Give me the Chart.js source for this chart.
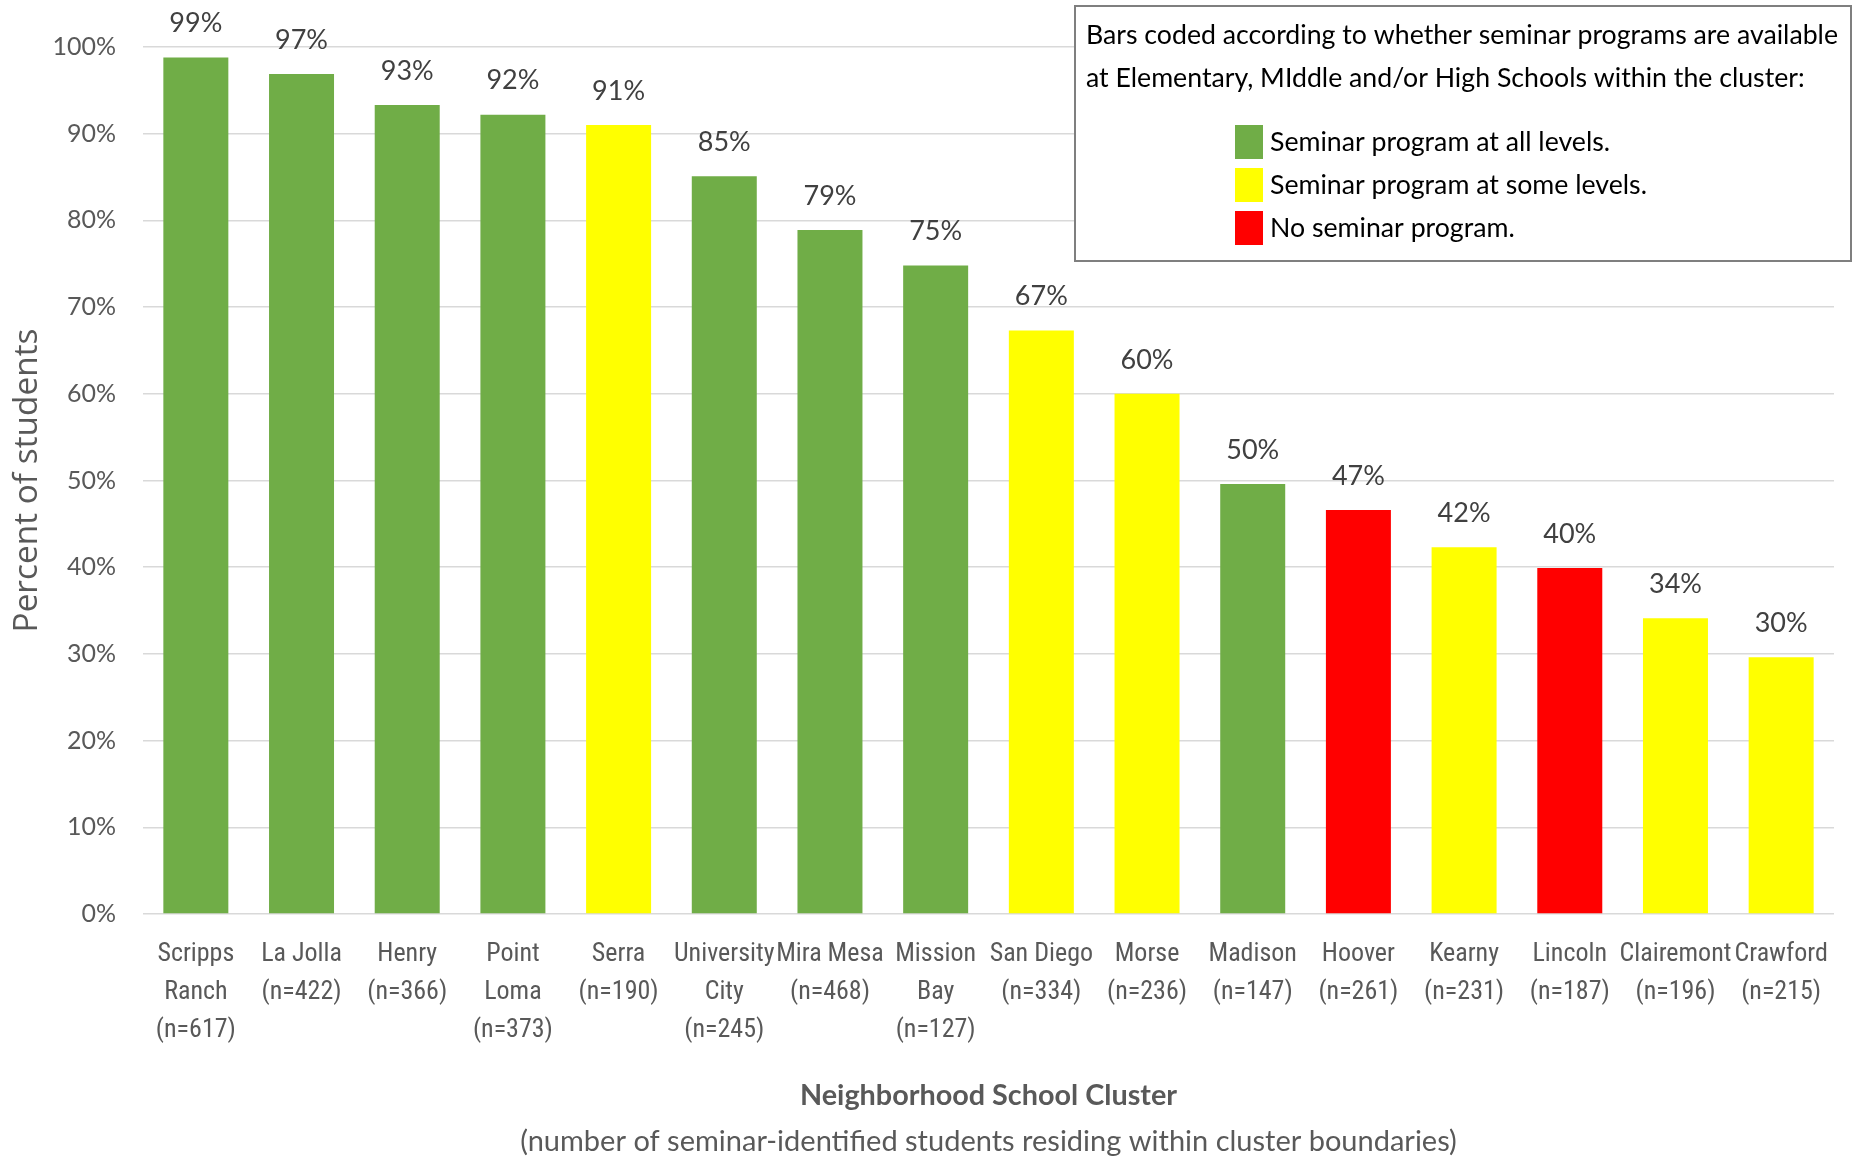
<!DOCTYPE html>
<html>
<head>
<meta charset="utf-8">
<style>
html,body{margin:0;padding:0;background:#ffffff;overflow:hidden}
#wrap{width:1853px;height:1158px;position:relative}
</style>
<script src="https://cdn.jsdelivr.net/npm/chart.js@4.4.1/dist/chart.umd.min.js"></script>
</head>
<body>
<div id="wrap"><canvas id="c" width="1853" height="1158"></canvas></div>
<script>
// ---------------- data ----------------
const categories = [
  ["Scripps", "Ranch", "(n=617)"],
  ["La Jolla", "(n=422)"],
  ["Henry", "(n=366)"],
  ["Point", "Loma", "(n=373)"],
  ["Serra", "(n=190)"],
  ["University", "City", "(n=245)"],
  ["Mira Mesa", "(n=468)"],
  ["Mission", "Bay", "(n=127)"],
  ["San Diego", "(n=334)"],
  ["Morse", "(n=236)"],
  ["Madison", "(n=147)"],
  ["Hoover", "(n=261)"],
  ["Kearny", "(n=231)"],
  ["Lincoln", "(n=187)"],
  ["Clairemont", "(n=196)"],
  ["Crawford", "(n=215)"]
];
const percentStudents = [98.8, 96.9, 93.3, 92.2, 91.0, 85.1, 78.9, 74.8, 67.3, 60.0, 49.6, 46.6, 42.3, 39.9, 34.1, 29.6];
const valueLabels = ["99%", "97%", "93%", "92%", "91%", "85%", "79%", "75%", "67%", "60%", "50%", "47%", "42%", "40%", "34%", "30%"];
const programLevel = ["all", "all", "all", "all", "some", "all", "all", "all", "some", "some", "all", "none", "some", "none", "some", "some"];
const levelKeys = ["all", "some", "none"];
const levelNames = ["Seminar program at all levels.", "Seminar program at some levels.", "No seminar program."];
const levelColors = ["#70AD47", "#FFFF00", "#FF0000"];
const legendHeading = [
  "Bars coded according to whether seminar programs are available",
  "at Elementary, MIddle and/or High Schools within the cluster:"
];
const yAxisTitle = "Percent of students";
const xAxisTitle = "Neighborhood School Cluster";
const xAxisSubtitle = "(number of seminar-identified students residing within cluster boundaries)";
const yMin = 0, yMax = 100, yStep = 10;

// ---------------- styles ----------------
const barColors = programLevel.map(l => levelColors[levelKeys.indexOf(l)]);
const GRAY_TEXT = "#595959";
const LABEL_TEXT = "#404040";
const FONT_MAIN = "Lato, 'Open Sans', sans-serif";
const FONT_WIDE = "'Open Sans', Lato, sans-serif";
const FONT_NARROW = "'Liberation Sans Narrow', 'Arial Narrow', 'Roboto Condensed', sans-serif";

// size the y-axis title so that it spans the same length as in the original
const measureCtx = document.createElement("canvas").getContext("2d");
function fitSize(text, family, weight, base, target) {
  measureCtx.font = weight + " " + base + "px " + family;
  const w = measureCtx.measureText(text).width;
  return +(base * target / w).toFixed(2);
}
const yTitleSize = fitSize(yAxisTitle, FONT_WIDE, "normal", 26, 304);

const valueLabelPlugin = {
  id: "valueLabels",
  afterDatasetsDraw(chart) {
    const ctx = chart.ctx;
    const meta = chart.getDatasetMeta(0);
    ctx.save();
    ctx.font = "27px " + FONT_MAIN;
    ctx.fillStyle = LABEL_TEXT;
    ctx.textAlign = "center";
    ctx.textBaseline = "middle";
    meta.data.forEach((bar, i) => {
      ctx.fillText(valueLabels[i], bar.x, bar.y - 34);
    });
    ctx.restore();
  }
};

const subtitlePlugin = {
  id: "axisSubtitle",
  afterDraw(chart) {
    const ctx = chart.ctx;
    const a = chart.chartArea;
    ctx.save();
    ctx.font = "29px " + FONT_MAIN;
    ctx.fillStyle = GRAY_TEXT;
    ctx.textAlign = "center";
    ctx.textBaseline = "middle";
    ctx.fillText(xAxisSubtitle, (a.left + a.right) / 2, chart.height - 16);
    ctx.restore();
  }
};

const boxLegendPlugin = {
  id: "boxLegend",
  afterDraw(chart) {
    const ctx = chart.ctx;
    const bx = 1075, by = 6, bw = 776, bh = 255;
    ctx.save();
    ctx.fillStyle = "#ffffff";
    ctx.fillRect(bx, by, bw, bh);
    ctx.strokeStyle = "#7F7F7F";
    ctx.lineWidth = 2;
    ctx.strokeRect(bx, by, bw, bh);
    ctx.fillStyle = "#000000";
    ctx.textAlign = "left";
    ctx.textBaseline = "middle";
    ctx.font = "26.7px " + FONT_MAIN;
    ctx.fillText(legendHeading[0], bx + 11, by + 29);
    ctx.fillText(legendHeading[1], bx + 11, by + 72);
    levelNames.forEach((name, i) => {
      const cy = by + 136 + i * 43;
      ctx.fillStyle = levelColors[i];
      ctx.fillRect(bx + 160, cy - 17, 28, 34);
      ctx.fillStyle = "#000000";
      ctx.fillText(name, bx + 195, cy);
    });
    ctx.restore();
  }
};

new Chart(document.getElementById("c"), {
  type: "bar",
  data: {
    labels: categories,
    datasets: [{
      data: percentStudents,
      backgroundColor: barColors,
      borderWidth: 0,
      barPercentage: 0.615,
      categoryPercentage: 1.0
    }]
  },
  options: {
    responsive: false,
    devicePixelRatio: 1,
    animation: false,
    layout: { padding: { left: 0, right: 19, top: 47, bottom: 33.6 } },
    plugins: {
      legend: { display: false },
      tooltip: { enabled: false },
      title: { display: false }
    },
    scales: {
      x: {
        grid: { display: false, drawTicks: false },
        border: { display: false },
        ticks: {
          color: GRAY_TEXT,
          padding: 22,
          maxRotation: 0,
          autoSkip: false,
          font: { family: FONT_NARROW, size: 26, lineHeight: 1.45 }
        },
        title: {
          display: true,
          text: xAxisTitle,
          color: GRAY_TEXT,
          font: { family: FONT_MAIN, size: 28.8, weight: "bold", lineHeight: 1.2 },
          padding: { top: 0, bottom: 11 }
        },
        afterFit(scale) { scale.height = 1158 - 914 - 33.6; }
      },
      y: {
        min: yMin,
        max: yMax,
        grid: { color: "#D9D9D9", lineWidth: 1.5, drawTicks: false },
        border: { display: false },
        ticks: {
          stepSize: yStep,
          color: GRAY_TEXT,
          padding: 27,
          font: { family: FONT_MAIN, size: 25 },
          callback: v => v + "%"
        },
        title: {
          display: true,
          text: yAxisTitle,
          color: GRAY_TEXT,
          font: { family: FONT_WIDE, size: yTitleSize, lineHeight: 1.2 },
          padding: { top: 26 - yTitleSize * 0.6 + 1, bottom: 0 }
        },
        afterFit(scale) { scale.width = 143; }
      }
    }
  },
  plugins: [valueLabelPlugin, subtitlePlugin, boxLegendPlugin]
});
</script>
</body>
</html>
